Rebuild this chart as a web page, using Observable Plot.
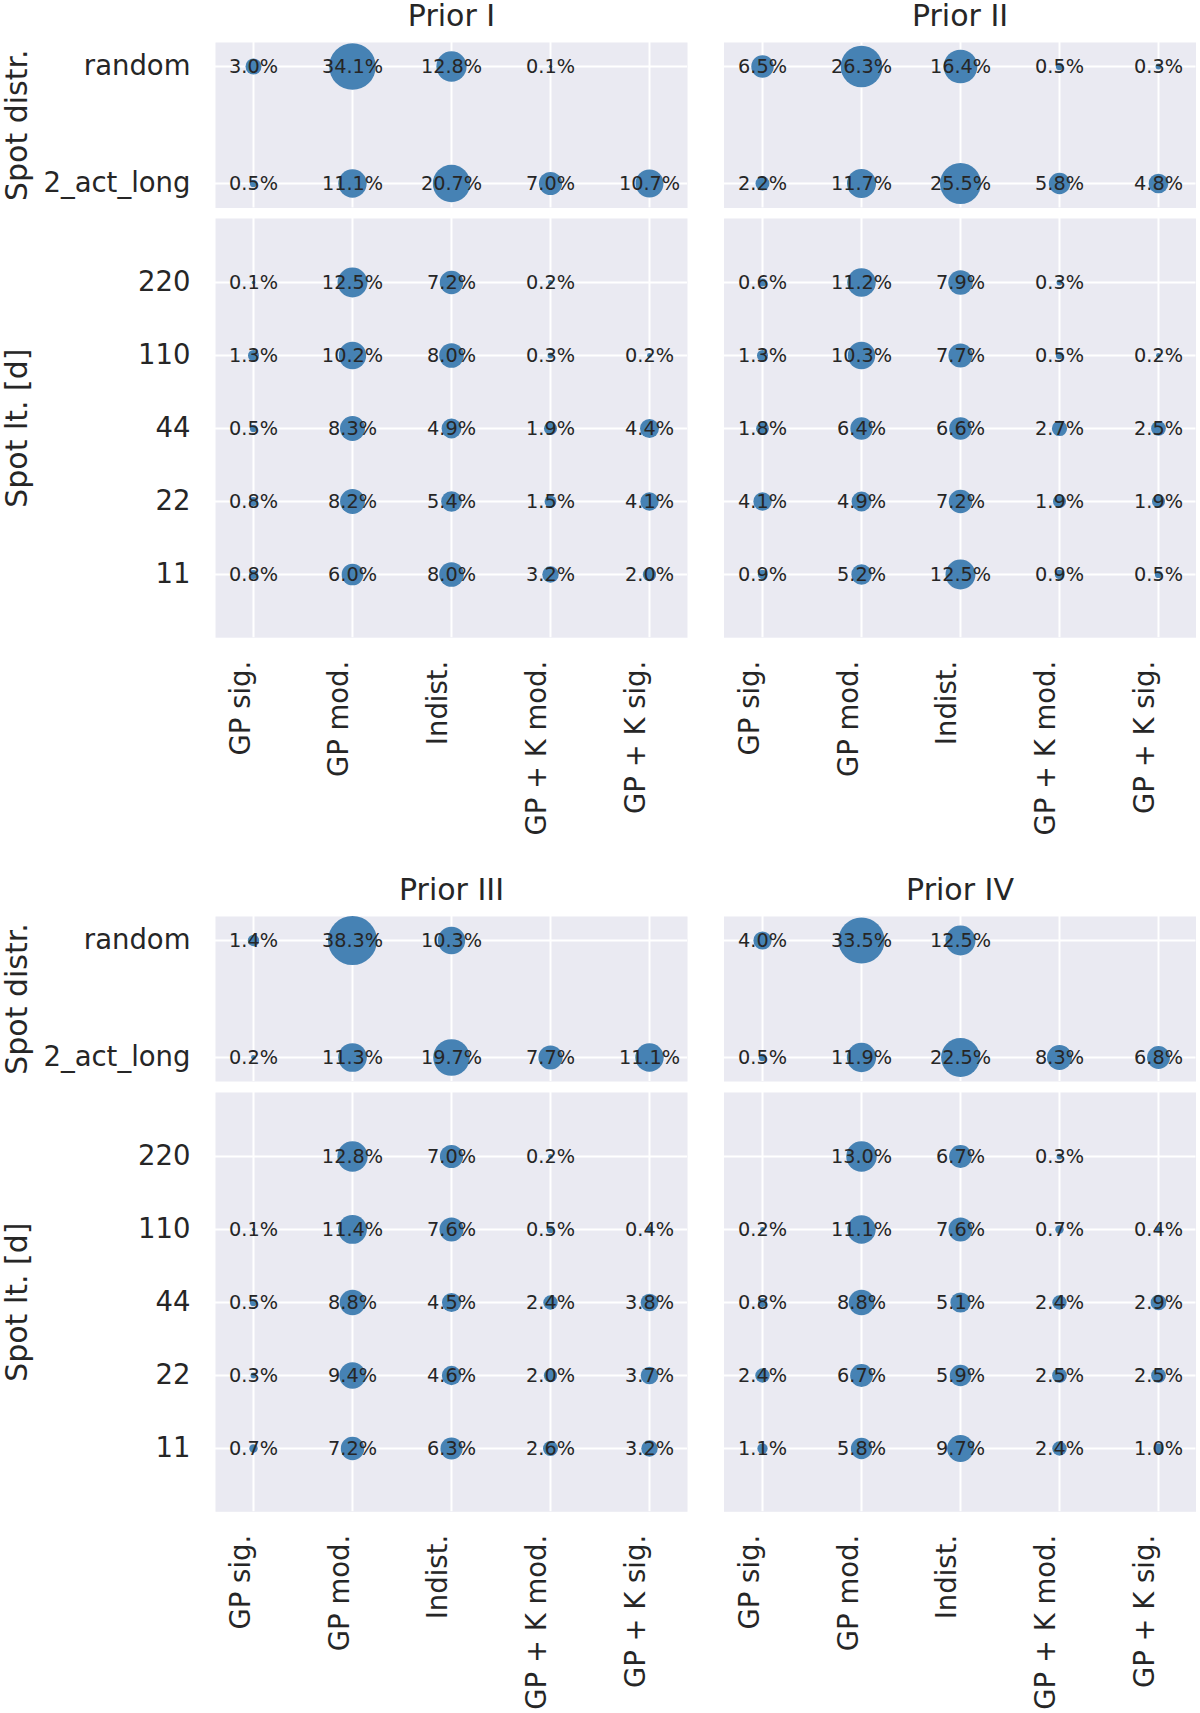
<!DOCTYPE html>
<html>
<head>
<meta charset="utf-8">
<script src="https://cdn.jsdelivr.net/npm/d3@7"></script>
<script src="https://cdn.jsdelivr.net/npm/@observablehq/plot@0.6"></script>
<style>
  html, body { margin: 0; padding: 0; background: #ffffff; }
  #chart { position: relative; width: 1200px; height: 1713px; font-family: "DejaVu Sans", sans-serif; }
  #chart svg { position: absolute; overflow: visible; }
</style>
</head>
<body>
<div id="chart"></div>
<script>
// ---------- data ----------
const priors = ["Prior I", "Prior II", "Prior III", "Prior IV"];
const outcomes = ["GP sig.", "GP mod.", "Indist.", "GP + K mod.", "GP + K sig."];
const spotDistr = ["random", "2_act_long"];
const spotLt = ["220", "110", "44", "22", "11"];

// values in %, columns follow `outcomes`; null = no entry
const prior1Distr = [
  [3.0, 34.1, 12.8, 0.1, null],
  [0.5, 11.1, 20.7, 7.0, 10.7]
];
const prior1Lt = [
  [0.1, 12.5, 7.2, 0.2, null],
  [1.3, 10.2, 8.0, 0.3, 0.2],
  [0.5, 8.3, 4.9, 1.9, 4.4],
  [0.8, 8.2, 5.4, 1.5, 4.1],
  [0.8, 6.0, 8.0, 3.2, 2.0]
];
const prior2Distr = [
  [6.5, 26.3, 16.4, 0.5, 0.3],
  [2.2, 11.7, 25.5, 5.8, 4.8]
];
const prior2Lt = [
  [0.6, 11.2, 7.9, 0.3, null],
  [1.3, 10.3, 7.7, 0.5, 0.2],
  [1.8, 6.4, 6.6, 2.7, 2.5],
  [4.1, 4.9, 7.2, 1.9, 1.9],
  [0.9, 5.2, 12.5, 0.9, 0.5]
];
const prior3Distr = [
  [1.4, 38.3, 10.3, null, null],
  [0.2, 11.3, 19.7, 7.7, 11.1]
];
const prior3Lt = [
  [null, 12.8, 7.0, 0.2, null],
  [0.1, 11.4, 7.6, 0.5, 0.4],
  [0.5, 8.8, 4.5, 2.4, 3.8],
  [0.3, 9.4, 4.6, 2.0, 3.7],
  [0.7, 7.2, 6.3, 2.6, 3.2]
];
const prior4Distr = [
  [4.0, 33.5, 12.5, null, null],
  [0.5, 11.9, 22.5, 8.3, 6.8]
];
const prior4Lt = [
  [null, 13.0, 6.7, 0.3, null],
  [0.2, 11.1, 7.6, 0.7, 0.4],
  [0.8, 8.8, 5.1, 2.4, 2.9],
  [2.4, 6.7, 5.9, 2.5, 2.5],
  [1.1, 5.8, 9.7, 2.4, 1.0]
];

const distrTables = [prior1Distr, prior2Distr, prior3Distr, prior4Distr];
const ltTables = [prior1Lt, prior2Lt, prior3Lt, prior4Lt];

// ---------- helpers ----------
function toLong(table, rows) {
  const out = [];
  table.forEach((vals, i) => vals.forEach((v, j) => {
    if (v != null) out.push({row: rows[i], col: outcomes[j], value: v});
  }));
  return out;
}

const INK = "#262626";
const BG = "#EAEAF2";
const DOT = "#4682b4";
const FONT = "DejaVu Sans";
const TICK = 27.5;
const LABEL = 30;
const panelW = 472;
const colLeft = [215, 723.5];
const svgLeft = [0, 700];
const rows = [
  {top: 42, topH: 165.5, bot: 218.3, botH: 419.2},
  {top: 916, topH: 165, bot: 1091.7, botH: 419.3}
];
const rScale = {type: "pow", exponent: 0.44, domain: [0, 38.3], range: [0, 24.5]};

const chart = document.getElementById("chart");

function panel({data, yDomain, yPad, col, svgTop, frameH, mTop, mBottom, title, yLabel, xLabels}) {
  const mLeft = colLeft[col] - svgLeft[col];
  const mRight = 4;
  const marks = [
    Plot.frame({fill: BG, stroke: null}),
    Plot.gridX({stroke: "white", strokeOpacity: 1, strokeWidth: 2}),
    Plot.gridY({stroke: "white", strokeOpacity: 1, strokeWidth: 2}),
    Plot.dot(data, {x: "col", y: "row", r: "value", fill: DOT, stroke: null, clip: true}),
    Plot.text(data, {x: "col", y: "row", text: d => d.value.toFixed(1) + "%", fontSize: 19.3, fill: INK})
  ];
  if (col === 0) {
    marks.push(Plot.text(yDomain, {y: d => d, text: d => d, frameAnchor: "left", dx: -25, textAnchor: "end", lineAnchor: "middle", fontSize: TICK, fill: INK}));
    marks.push(Plot.text([yLabel], {text: d => d, frameAnchor: "left", dx: 26 - mLeft, rotate: -90, textAnchor: "middle", lineAnchor: "bottom", fontSize: LABEL, fill: INK}));
  }
  if (title) {
    marks.push(Plot.text([title], {text: d => d, frameAnchor: "top", dy: -26.5, textAnchor: "middle", lineAnchor: "middle", fontSize: LABEL, fill: INK}));
  }
  if (xLabels) {
    marks.push(Plot.text(outcomes, {x: d => d, text: d => d, frameAnchor: "bottom", dy: 23, dx: -4, rotate: -90, textAnchor: "end", lineAnchor: "bottom", fontSize: TICK, fill: INK}));
  }
  const svg = Plot.plot({
    width: mLeft + panelW + mRight,
    height: mTop + frameH + mBottom,
    marginLeft: mLeft,
    marginRight: mRight,
    marginTop: mTop,
    marginBottom: mBottom,
    x: {type: "point", domain: outcomes, padding: 0.375, axis: null},
    y: {type: "point", domain: yDomain, padding: yPad, axis: null},
    r: rScale,
    style: {background: "transparent", overflow: "visible", fontFamily: FONT, color: INK},
    marks
  });
  svg.style.left = svgLeft[col] + "px";
  svg.style.top = svgTop + "px";
  svg.style.maxWidth = "none";
  chart.appendChild(svg);
}

priors.forEach((name, i) => {
  const r = Math.floor(i / 2), c = i % 2;
  const L = rows[r];
  const mTopT = 60;
  panel({
    data: toLong(distrTables[i], spotDistr),
    yDomain: spotDistr, yPad: 0.205, col: c,
    svgTop: L.top - mTopT, frameH: L.topH, mTop: mTopT, mBottom: 2,
    title: name, yLabel: "Spot distr.", xLabels: false
  });
  panel({
    data: toLong(ltTables[i], spotLt),
    yDomain: spotLt, yPad: 0.865, col: c,
    svgTop: L.bot - 2, frameH: L.botH, mTop: 2, mBottom: 196,
    title: null, yLabel: "Spot lt. [d]", xLabels: true
  });
});
</script>
</body>
</html>
